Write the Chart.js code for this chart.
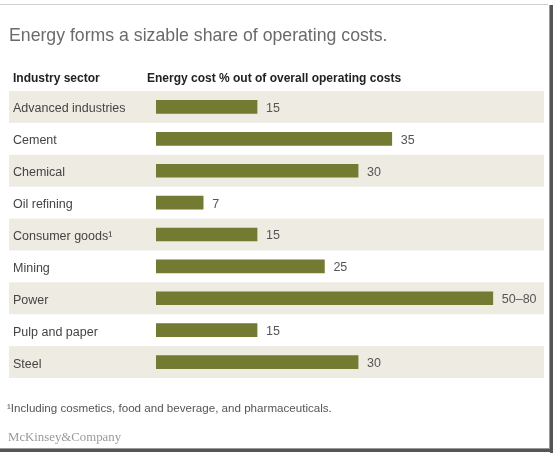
<!DOCTYPE html>
<html>
<head>
<meta charset="utf-8">
<script src="https://cdn.jsdelivr.net/npm/chart.js@4"></script>
<style>
  html, body { margin: 0; padding: 0; background: #fff; }
  #wrap { width: 554px; height: 453px; position: relative; background: #fff; }
</style>
</head>
<body>
<div id="wrap"><canvas id="energy-chart" width="554" height="453"></canvas></div>
<script>
// Chart data
const sectors = ['Advanced industries', 'Cement', 'Chemical', 'Oil refining', 'Consumer goods¹', 'Mining', 'Power', 'Pulp and paper', 'Steel'];
const energyShare = [15, 35, 30, 7, 15, 25, 50, 15, 30];
const shareLabels = ['15', '35', '30', '7', '15', '25', '50–80', '15', '30'];

const SANS = "'Liberation Sans', Arial, Helvetica, sans-serif";
const BAND = '#eeebe2';
const BAR = '#737a31';

// Alternating row shading, drawn before the axis labels
const rowBands = {
  id: 'rowBands',
  beforeDraw(chart) {
    const { ctx, scales: { y } } = chart;
    const half = (y.getPixelForValue(1) - y.getPixelForValue(0)) / 2;
    ctx.save();
    ctx.fillStyle = '#fff';
    ctx.fillRect(0, 0, 554, 453);
    ctx.fillStyle = BAND;
    sectors.forEach((s, i) => {
      if (i % 2) return;
      const c = y.getPixelForValue(i);
      ctx.fillRect(9, c - half, 535, half * 2);
    });
    ctx.restore();
  }
};

// Value labels, titles, footnote and the screenshot frame
const decorations = {
  id: 'decorations',
  afterDatasetsDraw(chart) {
    const { ctx } = chart;
    const meta = chart.getDatasetMeta(0);
    ctx.save();
    ctx.font = '12.5px ' + SANS;
    ctx.fillStyle = '#555';
    ctx.textBaseline = 'middle';
    meta.data.forEach((bar, i) => {
      ctx.fillText(shareLabels[i], bar.x + 9, bar.y + 1.5);
    });
    ctx.restore();
  },
  afterDraw(chart) {
    const { ctx } = chart;
    ctx.save();
    ctx.textBaseline = 'alphabetic';
    ctx.fillStyle = '#6a6a6a';
    ctx.font = '17.7px ' + SANS;
    ctx.fillText('Energy forms a sizable share of operating costs.', 9, 41);

    ctx.fillStyle = '#222';
    ctx.font = 'bold 12px ' + SANS;
    ctx.fillText('Industry sector', 13, 82);
    ctx.fillText('Energy cost % out of overall operating costs', 147, 82);

    ctx.fillStyle = '#555';
    ctx.font = '11.6px ' + SANS;
    ctx.fillText('¹Including cosmetics, food and beverage, and pharmaceuticals.', 7, 412);

    ctx.fillStyle = '#9a9a9a';
    ctx.font = "12.8px 'Liberation Serif', 'Times New Roman', serif";
    ctx.fillText('McKinsey&Company', 8, 441);

    // frame
    ctx.fillStyle = '#cfcfcf';
    ctx.fillRect(0, 4, 548, 1);
    ctx.fillStyle = '#555';
    ctx.fillRect(550, 5, 3, 448);
    ctx.fillRect(0, 449, 553, 3);
    ctx.fillStyle = '#999';
    ctx.fillRect(549, 5, 1, 444);
    ctx.fillRect(0, 448, 550, 1);
    ctx.restore();
  }
};

const ctx = document.getElementById('energy-chart');

new Chart(ctx, {
  type: 'bar',
  data: {
    labels: sectors,
    datasets: [{
      data: energyShare,
      backgroundColor: BAR,
      borderWidth: 0,
      barThickness: 13
    }]
  },
  options: {
    indexAxis: 'y',
    responsive: false,
    animation: false,
    events: [],
    layout: { padding: { left: 13, top: 91, right: 10, bottom: 75 } },
    plugins: {
      legend: { display: false },
      tooltip: { enabled: false },
      title: { display: false }
    },
    scales: {
      x: { display: false, min: 0, max: 57.6 },
      y: {
        grid: { display: false },
        border: { display: false },
        afterFit(scale) { scale.width = 143; },
        ticks: {
          crossAlign: 'far',
          padding: 0,
          labelOffset: 2,
          color: '#444',
          font: { family: SANS, size: 12.5 }
        }
      }
    }
  },
  plugins: [rowBands, decorations]
});
</script>
</body>
</html>
